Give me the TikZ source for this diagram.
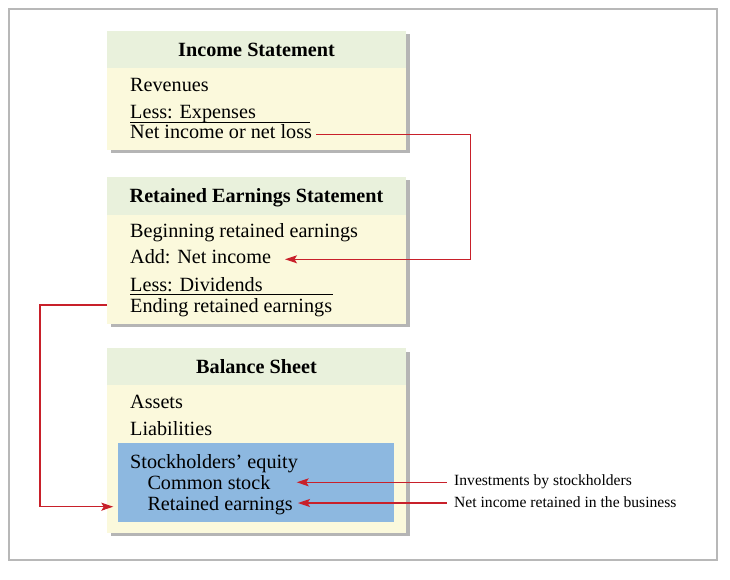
\documentclass[tikz,border=0pt]{standalone}
\usepackage{fontspec}
\setmainfont{Liberation Serif}
\usetikzlibrary{arrows.meta}
\definecolor{hdrgreen}{HTML}{E9F1DC}
\definecolor{bodyyellow}{HTML}{FBF9DC}
\definecolor{eqblue}{HTML}{8DB8E0}
\definecolor{flowred}{HTML}{C8202A}
\definecolor{framegray}{HTML}{B8B8B8}
\definecolor{shadowgray}{HTML}{B5B5B5}
\begin{document}
\begin{tikzpicture}[x=1pt,y=-1pt,
 panel/.style={anchor=north west, fill=bodyyellow, inner sep=0, minimum width=299pt},
 shade/.style={fill=shadowgray},
 hdr/.style={anchor=north west, fill=hdrgreen, inner sep=0, minimum width=299pt},
 eqbox/.style={anchor=north west, fill=eqblue, inner sep=0, minimum width=276.3pt, minimum height=79pt},
 title/.style={anchor=base, font=\fontsize{20.2}{23}\selectfont\bfseries, inner sep=0},
 item/.style={anchor=base west, font=\fontsize{20.2}{23}\selectfont, inner sep=0},
 note/.style={anchor=base west, font=\fontsize{15.6}{18}\selectfont, inner sep=0},
 rule/.style={draw=black, line width=1pt},
 flow/.style={draw=flowred, line width=1.1pt, -{Stealth[length=12pt,width=8pt,inset=2.5pt]}},
]
\useasboundingbox (0,0) rectangle (730,580);
\draw[framegray, line width=2pt] (9,9) rectangle (717,560);

% Income statement
\fill[shade] (110.5,34.5) rectangle (409.5,153.5);
\node[panel, minimum height=119pt] (isbox) at (107,31) {};
\node[hdr, minimum height=36.7pt] (ishdr) at (107,31) {};
\node[title] (istitle) at (256.5,56.2) {Income Statement};
\node[item] (rev) at (130,91.2) {Revenues};
\node[item] (exp) at (130,118.2) {Less: Expenses};
\draw[rule] (130,122.3) -- (310,122.3);
\node[item] (ni) at (130,138.8) {Net income or net loss};

% Retained earnings statement
\fill[shade] (110.5,180.2) rectangle (409.5,326.8);
\node[panel, minimum height=146.6pt] (resbox) at (107,176.7) {};
\node[hdr, minimum height=38.3pt] (reshdr) at (107,176.7) {};
\node[title] (restitle) at (256.5,202.2) {Retained Earnings Statement};
\node[item] (beg) at (130,237.2) {Beginning retained earnings};
\node[item] (add) at (130,263.8) {Add: Net income};
\node[item] (div) at (130,291.2) {Less: Dividends};
\draw[rule] (130,294.3) -- (332.7,294.3);
\node[item] (endre) at (130,312.2) {Ending retained earnings};

% Balance sheet
\fill[shade] (110.5,351.5) rectangle (409.5,536.2);
\node[panel, minimum height=184.7pt] (bsbox) at (107,348) {};
\node[hdr, minimum height=36.3pt] (bshdr) at (107,348) {};
\node[title] (bstitle) at (256.5,373.2) {Balance Sheet};
\node[item] (assets) at (130,408.2) {Assets};
\node[item] (liab) at (130,435.5) {Liabilities};
\node[eqbox] (eq) at (117.7,442.7) {};
\node[item] (se) at (130,468.8) {Stockholders’ equity};
\node[item] (cs) at (147.3,489.5) {Common stock};
\node[item] (re) at (147.3,510.5) {Retained earnings};

% side notes
\node[note] (inv) at (454,485.5) {Investments by stockholders};
\node[note] (nir) at (454,507.2) {Net income retained in the business};

% connector points
\coordinate (niout) at (316,134.3);
\coordinate (turnA) at (470.7,134.3);
\coordinate (addin) at (285,259.3);
\coordinate (endout) at (107,305);
\coordinate (turnB) at (40,305);
\coordinate (rein) at (113.3,506.7);
\coordinate (invout) at (446.7,482.3);
\coordinate (csin) at (296.7,482.3);
\coordinate (nirout) at (446.7,503);
\coordinate (rein2) at (298,503);

\draw[flow] (niout) -- (turnA) |- (addin);
\draw[flow] (endout) -- (turnB) |- (rein);
\draw[flow] (invout) -- (csin);
\draw[flow] (nirout) -- (rein2);
\end{tikzpicture}
\end{document}
